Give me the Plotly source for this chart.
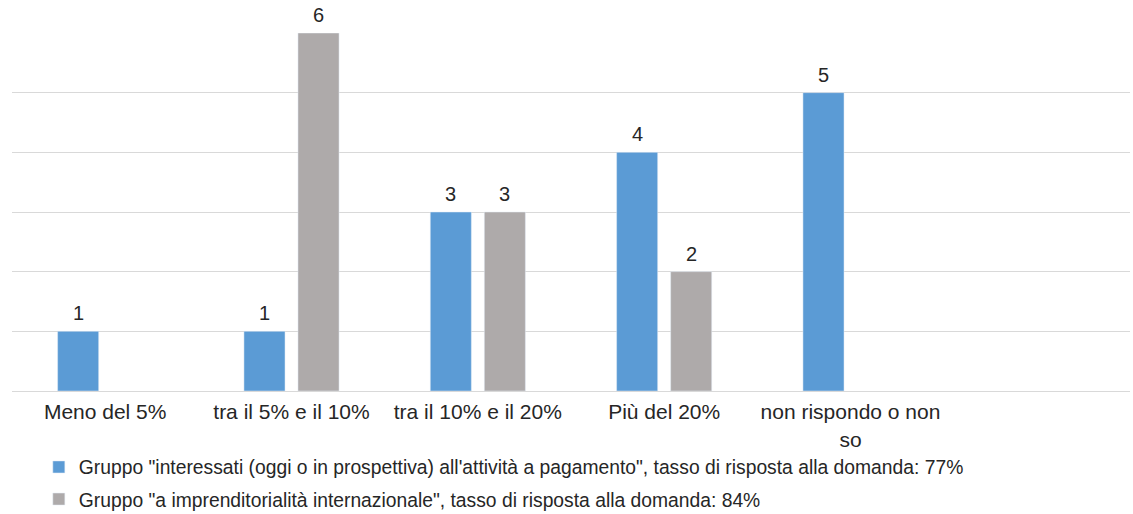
import plotly.graph_objects as go

categories = ["Meno del 5%", "tra il 5% e il 10%", "tra il 10% e il 20%", "Più del 20%", "non rispondo o non<br>so"]
series1_name = "Gruppo \"interessati (oggi o in prospettiva) all'attività a pagamento\", tasso di risposta alla domanda: 77%"
series2_name = "Gruppo \"a imprenditorialità internazionale\", tasso di risposta alla domanda: 84%"
series1 = [1, 1, 3, 4, 5]
series2 = [None, 6, 3, 2, None]

font_family = "Liberation Sans, Arial, sans-serif"
text_color = "#262626"

fig = go.Figure()
fig.add_trace(go.Bar(
    x=categories, y=series1, name=series1_name, marker_color="#5B9BD5",
    legendgroup="a", offsetgroup="a",
))
fig.add_trace(go.Bar(
    x=categories, y=series2, name=series2_name, marker_color="#AEAAAA",
    legendgroup="b", offsetgroup="b",
))

# value labels above bars (offset of each bar within its group, in pixels)
group_shift = {0: -27, 1: 27}
for si, series in enumerate([series1, series2]):
    for cat, v in zip(categories, series):
        if v is None:
            continue
        fig.add_annotation(
            x=cat, y=v, text=str(v), showarrow=False, xshift=group_shift[si],
            yanchor="bottom", yshift=5,
            font=dict(size=20, color=text_color, family=font_family),
        )

fig.update_layout(
    width=1133, height=514,
    margin=dict(l=12, r=3, t=33, b=123, autoexpand=False),
    plot_bgcolor="white", paper_bgcolor="white",
    barmode="group", bargap=0.42, bargroupgap=0.24,
    font=dict(family=font_family, size=19, color=text_color),
    showlegend=True,
    legend=dict(
        orientation="v", x=0.024, y=-0.159, xanchor="left", yanchor="top",
        bgcolor="rgba(0,0,0,0)",
        font=dict(size=19.3, color=text_color, family=font_family),
        tracegroupgap=4, traceorder="grouped", itemwidth=30,
    ),
)
fig.update_xaxes(
    type="category", range=[-0.5, 5.5], showgrid=False, showline=True,
    linecolor="#d9d9d9", linewidth=1, ticks="outside", ticklen=2, tickcolor="rgba(0,0,0,0)",
    tickfont=dict(size=21, color=text_color), fixedrange=True,
)
fig.update_yaxes(
    range=[0, 6], showgrid=True, gridcolor="#d9d9d9", gridwidth=1, dtick=1,
    showticklabels=False, zeroline=False, showline=False, fixedrange=True,
)

fig.write_html("out.html")
